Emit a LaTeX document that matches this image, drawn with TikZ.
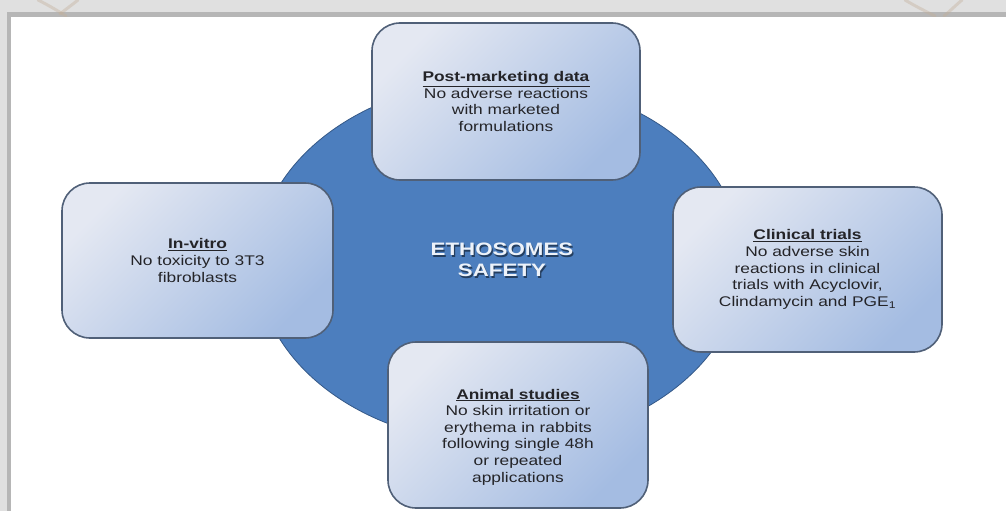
\documentclass[tikz,border=0pt]{standalone}
\usepackage{fontspec}
\setmainfont{Liberation Sans}[FakeStretch=1.24]

\definecolor{blobblue}{RGB}{76,126,190}
\definecolor{blobline}{RGB}{52,88,135}
\definecolor{boxtop}{RGB}{228,232,242}
\definecolor{boxmid}{RGB}{210,220,238}
\definecolor{boxbot}{RGB}{164,188,226}
\definecolor{boxline}{RGB}{80,96,120}
\definecolor{boxtext}{RGB}{36,36,40}
\definecolor{bandlight}{RGB}{224,224,224}
\definecolor{banddark}{RGB}{182,182,182}
\definecolor{grain}{RGB}{196,176,154}

\newcommand{\boxhead}[1]{\underline{\textbf{#1}}}

\tikzset{
  safebox/.style={draw=boxline, line width=1.6pt, rounded corners=28pt,
    top color=boxtop, middle color=boxmid, bottom color=boxbot, shading angle=45,
    align=center, text=boxtext, inner sep=0pt,
    font=\fontsize{14}{16.6}\selectfont},
  boxwords/.style={align=center, text=boxtext, inner sep=0pt,
    font=\fontsize{14}{16.6}\selectfont},
  coreword/.style={align=center, font=\fontsize{18}{21}\selectfont\bfseries}
}

\begin{document}
\begin{tikzpicture}[x=1pt,y=-1pt]
\useasboundingbox (0,0) rectangle (1006,511);
% frame round the slide
\fill[bandlight] (0,0) rectangle (1006,12);
\fill[bandlight] (0,0) rectangle (7,511);
\fill[banddark] (7,12) rectangle (1006,17);
\fill[banddark] (7,12) rectangle (11,511);
\begin{scope}[grain, line width=3pt, opacity=.4, line cap=round]
\draw (38,0) .. controls (50,6) and (58,11) .. (66,16);
\draw (78,0) .. controls (72,5) and (66,9) .. (60,14);
\draw (905,0) .. controls (915,6) and (925,11) .. (935,16);
\draw (962,0) .. controls (955,6) and (950,11) .. (944,16);
\end{scope}
\fill[white] (11,17) rectangle (1006,511);

% central disc
\draw[fill=blobblue, draw=blobline, line width=.8pt] (500,262) ellipse [x radius=243, y radius=182];
\node[coreword, text=blobline!70!black] (coreshade) at (503.2,261.5) {ETHOSOMES\\SAFETY};
\node[coreword, text=white!90!blobblue] (core) at (502,260) {ETHOSOMES\\SAFETY};

% the four findings
\node[safebox, minimum width=268pt, minimum height=157pt] (postdata) at (506,101.5)
  {\boxhead{Post-marketing data}\\No adverse reactions\\with marketed\\formulations};
\node[safebox, minimum width=271pt, minimum height=155pt] (invitro) at (197.5,260.5)
  {\boxhead{In-vitro}\\No toxicity to 3T3\\fibroblasts};
\node[safebox, minimum width=269pt, minimum height=165pt] (clinical) at (807.5,269.5)
  {\boxhead{Clinical trials}\\No adverse skin\\reactions in clinical\\trials with Acyclovir,\\Clindamycin and PGE\textsubscript{1}};
\node[safebox, minimum width=260pt, minimum height=166pt] (animal) at (518,425) {};
\node[boxwords] (animaltext) at ([yshift=-12pt]animal.center)
  {\boxhead{Animal studies}\\No skin irritation or\\erythema in rabbits\\following single 48h\\or repeated\\applications};
\end{tikzpicture}
\end{document}
